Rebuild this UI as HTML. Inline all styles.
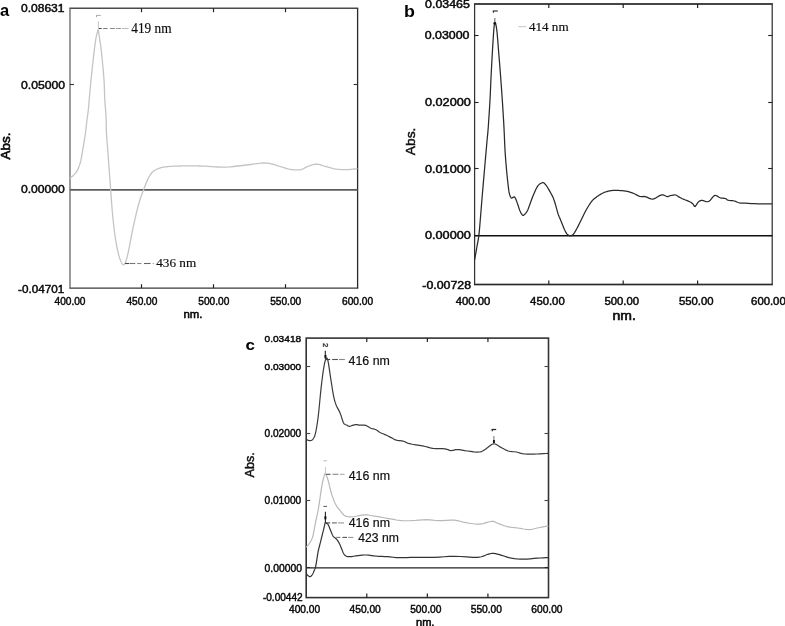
<!DOCTYPE html>
<html><head><meta charset="utf-8"><style>
html,body{margin:0;padding:0;background:#fff;width:785px;height:626px;overflow:hidden;}
svg{display:block;will-change:transform;font-family:"Liberation Sans",sans-serif;}
</style></head><body>
<svg width="785" height="626" viewBox="0 0 785 626">
<line x1="69.30" y1="8.20" x2="358.20" y2="8.20" stroke="#4a4a4a" stroke-width="1.4" />
<line x1="69.30" y1="288.20" x2="358.20" y2="288.20" stroke="#383838" stroke-width="1.3" />
<line x1="70.00" y1="8.20" x2="70.00" y2="288.20" stroke="#707070" stroke-width="1.4" />
<line x1="357.60" y1="8.20" x2="357.60" y2="288.20" stroke="#2a2a2a" stroke-width="1.3" />
<line x1="141.50" y1="8.20" x2="141.50" y2="12.20" stroke="#222" stroke-width="1.2" />
<line x1="141.50" y1="288.20" x2="141.50" y2="284.20" stroke="#222" stroke-width="1.2" />
<line x1="213.50" y1="8.20" x2="213.50" y2="12.20" stroke="#222" stroke-width="1.2" />
<line x1="213.50" y1="288.20" x2="213.50" y2="284.20" stroke="#222" stroke-width="1.2" />
<line x1="285.50" y1="8.20" x2="285.50" y2="12.20" stroke="#222" stroke-width="1.2" />
<line x1="285.50" y1="288.20" x2="285.50" y2="284.20" stroke="#222" stroke-width="1.2" />
<line x1="70.00" y1="84.50" x2="74.00" y2="84.50" stroke="#333" stroke-width="1.1" />
<line x1="357.60" y1="84.50" x2="353.60" y2="84.50" stroke="#333" stroke-width="1.1" />
<line x1="70.00" y1="189.50" x2="74.00" y2="189.50" stroke="#333" stroke-width="1.1" />
<line x1="357.60" y1="189.50" x2="353.60" y2="189.50" stroke="#333" stroke-width="1.1" />
<line x1="70.00" y1="189.90" x2="357.60" y2="189.90" stroke="#5c5c5c" stroke-width="1.8" />
<polyline points="70.00,178.30 70.32,178.04 70.76,177.70 71.29,177.29 71.86,176.83 72.44,176.33 73.00,175.80 73.56,175.24 74.14,174.64 74.74,173.99 75.33,173.32 75.89,172.62 76.40,171.90 76.86,171.17 77.29,170.43 77.69,169.66 78.07,168.85 78.43,168.00 78.80,167.10 79.16,166.15 79.51,165.17 79.85,164.14 80.18,163.06 80.49,161.92 80.80,160.70 81.09,159.37 81.38,157.91 81.65,156.40 81.91,154.87 82.16,153.39 82.40,152.00 82.63,150.69 82.84,149.40 83.05,148.16 83.24,146.97 83.43,145.84 83.60,144.80 83.75,143.90 83.88,143.14 84.00,142.45 84.12,141.75 84.25,140.96 84.40,140.00 84.58,138.88 84.77,137.66 84.98,136.36 85.19,134.97 85.40,133.52 85.60,132.00 85.80,130.41 85.99,128.72 86.18,126.97 86.38,125.17 86.58,123.34 86.80,121.50 87.04,119.62 87.30,117.69 87.57,115.72 87.83,113.76 88.08,111.84 88.30,110.00 88.47,108.36 88.61,106.93 88.73,105.53 88.86,104.02 89.00,102.23 89.20,100.00 89.44,97.32 89.69,94.31 89.98,91.02 90.29,87.51 90.63,83.82 91.00,80.00 91.43,75.83 91.92,71.23 92.44,66.45 92.97,61.75 93.46,57.38 93.90,53.60 94.28,50.42 94.62,47.64 94.93,45.20 95.23,43.02 95.51,41.04 95.80,39.20 96.10,37.53 96.39,36.08 96.68,34.84 96.95,33.76 97.19,32.83 97.40,32.00 97.56,31.29 97.67,30.73 97.76,30.31 97.84,30.02 97.91,29.85 98.00,29.80 98.09,29.85 98.18,30.02 98.27,30.31 98.36,30.73 98.47,31.29 98.60,32.00 98.75,32.83 98.90,33.76 99.07,34.84 99.26,36.08 99.46,37.53 99.70,39.20 99.96,41.04 100.26,43.02 100.57,45.20 100.90,47.64 101.25,50.42 101.60,53.60 101.99,57.38 102.42,61.75 102.87,66.45 103.30,71.23 103.69,75.83 104.00,80.00 104.22,83.75 104.37,87.29 104.47,90.65 104.56,93.87 104.66,96.97 104.80,100.00 104.99,102.90 105.20,105.63 105.42,108.25 105.64,110.81 105.84,113.38 106.00,116.00 106.10,118.67 106.16,121.33 106.20,124.00 106.24,126.67 106.30,129.33 106.40,132.00 106.55,134.60 106.73,137.11 106.93,139.62 107.14,142.22 107.37,144.99 107.60,148.00 107.84,151.34 108.11,154.97 108.38,158.76 108.66,162.61 108.93,166.39 109.20,170.00 109.46,173.45 109.71,176.82 109.97,180.14 110.22,183.40 110.46,186.62 110.70,189.80 110.92,192.91 111.12,195.92 111.32,198.89 111.52,201.86 111.75,204.88 112.00,208.00 112.29,211.30 112.61,214.76 112.96,218.26 113.31,221.71 113.66,224.99 114.00,228.00 114.33,230.73 114.67,233.26 115.00,235.62 115.33,237.85 115.67,239.97 116.00,242.00 116.33,243.92 116.65,245.69 116.97,247.34 117.30,248.93 117.64,250.47 118.00,252.00 118.39,253.55 118.79,255.10 119.21,256.61 119.63,258.04 120.07,259.35 120.50,260.50 120.94,261.53 121.40,262.47 121.86,263.30 122.32,263.97 122.77,264.45 123.20,264.70 123.60,264.73 123.98,264.58 124.34,264.24 124.71,263.70 125.09,262.95 125.50,262.00 125.92,260.92 126.33,259.73 126.75,258.33 127.21,256.64 127.72,254.56 128.30,252.00 128.96,248.81 129.69,245.04 130.47,240.88 131.29,236.52 132.14,232.16 133.00,228.00 133.90,223.88 134.86,219.63 135.84,215.38 136.83,211.26 137.79,207.42 138.70,204.00 139.56,201.04 140.40,198.44 141.21,196.12 141.99,194.00 142.76,191.99 143.50,190.00 144.22,188.05 144.93,186.20 145.61,184.47 146.27,182.85 146.90,181.36 147.50,180.00 148.05,178.80 148.56,177.77 149.03,176.86 149.50,176.03 149.98,175.26 150.50,174.50 151.03,173.77 151.54,173.10 152.06,172.48 152.63,171.90 153.27,171.34 154.00,170.80 154.83,170.27 155.74,169.75 156.72,169.26 157.76,168.80 158.86,168.38 160.00,168.00 161.17,167.68 162.37,167.40 163.62,167.16 164.96,166.96 166.41,166.77 168.00,166.60 169.79,166.45 171.78,166.33 173.88,166.22 176.00,166.14 178.07,166.07 180.00,166.00 181.72,165.94 183.30,165.88 184.81,165.84 186.37,165.81 188.07,165.79 190.00,165.80 192.16,165.82 194.48,165.87 196.94,165.93 199.52,166.00 202.21,166.09 205.00,166.20 207.99,166.36 211.22,166.57 214.56,166.80 217.89,167.01 221.08,167.15 224.00,167.20 226.64,167.13 229.09,166.97 231.39,166.76 233.61,166.50 235.80,166.24 238.00,166.00 240.20,165.77 242.35,165.52 244.46,165.27 246.55,165.01 248.63,164.75 250.70,164.50 252.80,164.22 254.92,163.91 257.02,163.59 259.08,163.31 261.05,163.11 262.90,163.00 264.61,163.00 266.20,163.09 267.71,163.25 269.16,163.46 270.58,163.72 272.00,164.00 273.39,164.33 274.71,164.72 276.01,165.15 277.30,165.60 278.62,166.06 280.00,166.50 281.48,166.95 283.04,167.43 284.62,167.91 286.19,168.37 287.66,168.78 289.00,169.10 290.17,169.34 291.21,169.51 292.18,169.63 293.10,169.70 294.02,169.76 295.00,169.80 296.01,169.86 297.00,169.93 298.00,169.97 299.02,169.95 300.08,169.84 301.20,169.60 302.38,169.18 303.60,168.59 304.86,167.90 306.16,167.19 307.47,166.54 308.80,166.00 310.15,165.55 311.54,165.11 312.95,164.73 314.37,164.43 315.79,164.24 317.20,164.20 318.57,164.34 319.91,164.65 321.26,165.07 322.63,165.56 324.07,166.05 325.60,166.50 327.25,166.94 329.00,167.42 330.81,167.91 332.65,168.38 334.49,168.78 336.30,169.10 338.09,169.32 339.89,169.47 341.69,169.57 343.49,169.61 345.26,169.62 347.00,169.60 348.82,169.52 350.76,169.37 352.67,169.18 354.43,168.99 355.92,168.81 357.00,168.70" fill="none" stroke="#c4c4c4" stroke-width="1.3" stroke-linejoin="round" stroke-linecap="round" />
<line x1="96.00" y1="15.40" x2="100.80" y2="15.40" stroke="#aaa" stroke-width="1.0" />
<line x1="96.50" y1="15.40" x2="96.50" y2="17.20" stroke="#aaa" stroke-width="1.0" />
<line x1="98.40" y1="21.20" x2="98.40" y2="28.00" stroke="#c8c8c8" stroke-width="1.0" />
<line x1="98.60" y1="28.50" x2="101.60" y2="28.50" stroke="#444" stroke-width="1.0" />
<line x1="103.20" y1="28.50" x2="107.50" y2="28.50" stroke="#777" stroke-width="1.0" />
<line x1="110.00" y1="28.50" x2="114.90" y2="28.50" stroke="#888" stroke-width="1.0" />
<line x1="115.90" y1="28.50" x2="121.00" y2="28.50" stroke="#999" stroke-width="1.0" />
<line x1="122.00" y1="28.50" x2="128.70" y2="28.50" stroke="#bbb" stroke-width="1.0" />
<line x1="125.10" y1="263.50" x2="129.20" y2="263.50" stroke="#444" stroke-width="1.1" />
<line x1="129.70" y1="263.50" x2="135.30" y2="263.50" stroke="#777" stroke-width="1.1" />
<line x1="137.10" y1="263.50" x2="141.40" y2="263.50" stroke="#888" stroke-width="1.1" />
<line x1="144.00" y1="263.50" x2="150.60" y2="263.50" stroke="#666" stroke-width="1.1" />
<line x1="152.70" y1="263.50" x2="153.90" y2="263.50" stroke="#999" stroke-width="1.1" />
<text x="131.30" y="33.00" font-family='"Liberation Serif", serif' font-size="13.7" font-weight="normal" fill="#0a0a0a" stroke="#0a0a0a" stroke-width="0.15" text-anchor="start" textLength="40.3" lengthAdjust="spacingAndGlyphs" >419 nm</text>
<text x="156.20" y="266.80" font-family='"Liberation Serif", serif' font-size="13.4" font-weight="normal" fill="#0a0a0a" stroke="#0a0a0a" stroke-width="0.15" text-anchor="start" textLength="40.0" lengthAdjust="spacingAndGlyphs" >436 nm</text>
<text x="21.00" y="11.50" font-family='"Liberation Sans", sans-serif' font-size="10.6" font-weight="normal" fill="#0a0a0a" stroke="#0a0a0a" stroke-width="0.45" text-anchor="start" textLength="43.5" lengthAdjust="spacingAndGlyphs" >0.08631</text>
<text x="21.10" y="89.20" font-family='"Liberation Sans", sans-serif' font-size="10.6" font-weight="normal" fill="#0a0a0a" stroke="#0a0a0a" stroke-width="0.45" text-anchor="start" textLength="44.0" lengthAdjust="spacingAndGlyphs" >0.05000</text>
<text x="21.00" y="193.30" font-family='"Liberation Sans", sans-serif' font-size="10.6" font-weight="normal" fill="#0a0a0a" stroke="#0a0a0a" stroke-width="0.45" text-anchor="start" textLength="43.8" lengthAdjust="spacingAndGlyphs" >0.00000</text>
<text x="18.10" y="293.00" font-family='"Liberation Sans", sans-serif' font-size="10.6" font-weight="normal" fill="#0a0a0a" stroke="#0a0a0a" stroke-width="0.45" text-anchor="start" textLength="46.1" lengthAdjust="spacingAndGlyphs" >-0.04701</text>
<text x="70.00" y="304.60" font-family='"Liberation Sans", sans-serif' font-size="10" font-weight="normal" fill="#0a0a0a" stroke="#0a0a0a" stroke-width="0.45" text-anchor="middle" textLength="31" lengthAdjust="spacingAndGlyphs" >400.00</text>
<text x="141.90" y="304.60" font-family='"Liberation Sans", sans-serif' font-size="10" font-weight="normal" fill="#0a0a0a" stroke="#0a0a0a" stroke-width="0.45" text-anchor="middle" textLength="31" lengthAdjust="spacingAndGlyphs" >450.00</text>
<text x="213.80" y="304.60" font-family='"Liberation Sans", sans-serif' font-size="10" font-weight="normal" fill="#0a0a0a" stroke="#0a0a0a" stroke-width="0.45" text-anchor="middle" textLength="31" lengthAdjust="spacingAndGlyphs" >500.00</text>
<text x="285.70" y="304.60" font-family='"Liberation Sans", sans-serif' font-size="10" font-weight="normal" fill="#0a0a0a" stroke="#0a0a0a" stroke-width="0.45" text-anchor="middle" textLength="31" lengthAdjust="spacingAndGlyphs" >550.00</text>
<text x="357.60" y="304.60" font-family='"Liberation Sans", sans-serif' font-size="10" font-weight="normal" fill="#0a0a0a" stroke="#0a0a0a" stroke-width="0.45" text-anchor="middle" textLength="31" lengthAdjust="spacingAndGlyphs" >600.00</text>
<text x="183.40" y="317.70" font-family='"Liberation Sans", sans-serif' font-size="11.6" font-weight="normal" fill="#0a0a0a" stroke="#0a0a0a" stroke-width="0.6" text-anchor="start" textLength="19.0" lengthAdjust="spacingAndGlyphs" >nm.</text>
<text transform="translate(10.2,159.4) rotate(-90)" font-family='"Liberation Sans", sans-serif' font-size="12.9" fill="#0a0a0a" stroke="#0a0a0a" stroke-width="0.6" textLength="26.8" lengthAdjust="spacingAndGlyphs">Abs.</text>
<text x="0.10" y="16.30" font-family='"Liberation Sans", sans-serif' font-size="16.5" font-weight="bold" fill="#000"  text-anchor="start"  >a</text>
<rect x="474.6" y="4.0" width="297.6" height="280.5" fill="none" stroke="#333" stroke-width="1.25"/>
<line x1="474.00" y1="4.00" x2="772.80" y2="4.00" stroke="#333" stroke-width="1.6" />
<line x1="474.00" y1="284.50" x2="772.80" y2="284.50" stroke="#2a2a2a" stroke-width="1.6" />
<line x1="548.80" y1="4.00" x2="548.80" y2="8.00" stroke="#222" stroke-width="1.2" />
<line x1="548.80" y1="284.50" x2="548.80" y2="280.50" stroke="#222" stroke-width="1.2" />
<line x1="623.20" y1="4.00" x2="623.20" y2="8.00" stroke="#222" stroke-width="1.2" />
<line x1="623.20" y1="284.50" x2="623.20" y2="280.50" stroke="#222" stroke-width="1.2" />
<line x1="697.60" y1="4.00" x2="697.60" y2="8.00" stroke="#222" stroke-width="1.2" />
<line x1="697.60" y1="284.50" x2="697.60" y2="280.50" stroke="#222" stroke-width="1.2" />
<line x1="474.60" y1="35.50" x2="478.60" y2="35.50" stroke="#222" stroke-width="1.1" />
<line x1="772.20" y1="35.50" x2="768.20" y2="35.50" stroke="#222" stroke-width="1.1" />
<line x1="474.60" y1="102.50" x2="478.60" y2="102.50" stroke="#222" stroke-width="1.1" />
<line x1="772.20" y1="102.50" x2="768.20" y2="102.50" stroke="#222" stroke-width="1.1" />
<line x1="474.60" y1="168.50" x2="478.60" y2="168.50" stroke="#222" stroke-width="1.1" />
<line x1="772.20" y1="168.50" x2="768.20" y2="168.50" stroke="#222" stroke-width="1.1" />
<line x1="474.60" y1="235.50" x2="478.60" y2="235.50" stroke="#222" stroke-width="1.1" />
<line x1="772.20" y1="235.50" x2="768.20" y2="235.50" stroke="#222" stroke-width="1.1" />
<line x1="474.60" y1="235.80" x2="772.20" y2="235.80" stroke="#111" stroke-width="1.6" />
<polyline points="474.70,259.30 475.10,257.06 475.68,253.84 476.32,250.28 476.90,247.00 477.41,244.21 477.91,241.55 478.37,238.84 478.80,235.90 479.15,232.93 479.43,229.94 479.73,226.46 480.10,222.00 480.58,216.24 481.12,209.51 481.70,202.27 482.30,195.00 482.93,187.59 483.60,179.88 484.27,172.22 484.90,165.00 485.50,158.09 486.09,151.38 486.64,145.22 487.10,140.00 487.44,136.46 487.68,134.19 487.90,131.82 488.20,128.00 488.62,121.98 489.11,114.62 489.59,106.95 490.00,100.00 490.29,94.22 490.52,89.00 490.73,83.78 491.00,78.00 491.34,71.23 491.73,63.88 492.13,56.58 492.50,50.00 492.85,44.13 493.19,38.69 493.51,33.90 493.80,30.00 494.05,27.14 494.26,25.16 494.47,23.85 494.70,23.00 494.96,22.64 495.23,22.84 495.51,23.50 495.80,24.50 496.09,25.71 496.38,27.22 496.68,29.25 497.00,32.00 497.35,35.66 497.71,40.06 498.10,44.94 498.50,50.00 498.92,55.19 499.37,60.66 499.83,66.42 500.30,72.50 500.79,79.01 501.31,85.91 501.82,92.97 502.30,100.00 502.76,107.11 503.21,114.34 503.63,121.41 504.00,128.00 504.29,134.01 504.52,139.61 504.74,144.90 505.00,150.00 505.32,154.90 505.66,159.54 506.03,163.99 506.40,168.30 506.79,172.56 507.21,176.71 507.62,180.59 508.00,184.00 508.33,186.88 508.63,189.34 508.94,191.45 509.30,193.30 509.74,194.93 510.22,196.28 510.72,197.31 511.20,198.00 511.65,198.18 512.09,197.93 512.54,197.54 513.00,197.30 513.46,197.12 513.93,196.90 514.43,196.93 515.00,197.50 515.68,198.85 516.44,200.78 517.21,202.89 517.90,204.80 518.47,206.47 518.96,208.09 519.45,209.61 520.00,211.00 520.64,212.34 521.34,213.62 522.04,214.66 522.70,215.30 523.30,215.42 523.86,215.14 524.42,214.61 525.00,214.00 525.61,213.35 526.24,212.57 526.87,211.64 527.50,210.50 528.11,209.14 528.70,207.58 529.32,205.86 530.00,204.00 530.74,201.98 531.51,199.79 532.36,197.51 533.30,195.20 534.37,192.70 535.56,190.03 536.79,187.55 538.00,185.60 539.25,184.31 540.56,183.47 541.78,182.97 542.80,182.70 543.52,182.68 544.04,182.95 544.48,183.42 545.00,184.00 545.57,184.60 546.14,185.29 546.79,186.21 547.60,187.50 548.70,189.33 550.00,191.59 551.30,193.95 552.40,196.10 553.19,197.84 553.80,199.38 554.36,201.01 555.00,203.00 555.79,205.68 556.65,208.81 557.48,211.86 558.20,214.30 558.74,215.85 559.17,216.83 559.56,217.63 560.00,218.60 560.48,219.79 560.97,221.01 561.50,222.33 562.10,223.80 562.80,225.55 563.59,227.52 564.40,229.45 565.20,231.10 565.95,232.45 566.68,233.61 567.45,234.55 568.30,235.20 569.27,235.61 570.34,235.79 571.43,235.65 572.50,235.10 573.53,234.05 574.55,232.56 575.57,230.82 576.60,229.00 577.62,227.13 578.63,225.12 579.68,222.97 580.80,220.70 582.03,218.20 583.34,215.50 584.68,212.80 586.00,210.30 587.33,207.98 588.67,205.76 589.98,203.73 591.20,202.00 592.25,200.68 593.18,199.69 594.15,198.83 595.30,197.90 596.75,196.81 598.38,195.68 600.05,194.60 601.60,193.70 602.95,193.01 604.21,192.46 605.46,192.01 606.80,191.60 608.25,191.20 609.77,190.86 611.35,190.58 613.00,190.40 614.75,190.34 616.59,190.38 618.46,190.48 620.30,190.60 622.13,190.73 623.96,190.88 625.77,191.09 627.50,191.40 629.14,191.81 630.71,192.31 632.25,192.88 633.80,193.50 635.38,194.25 636.97,195.12 638.53,195.93 640.00,196.50 641.29,196.67 642.46,196.58 643.68,196.47 645.10,196.60 646.85,197.19 648.82,198.06 650.83,198.82 652.70,199.10 654.45,198.65 656.14,197.72 657.71,196.68 659.10,195.90 660.22,195.43 661.12,195.09 661.96,194.91 662.90,194.90 664.01,195.20 665.19,195.76 666.35,196.31 667.40,196.60 668.25,196.51 668.96,196.19 669.70,195.80 670.60,195.50 671.80,195.28 673.19,195.08 674.56,194.96 675.70,195.00 676.45,195.23 676.95,195.61 677.45,196.09 678.20,196.60 679.26,197.16 680.51,197.79 681.87,198.45 683.30,199.10 684.88,199.75 686.61,200.41 688.29,201.07 689.70,201.70 690.77,202.29 691.63,202.86 692.34,203.42 693.00,204.00 693.55,204.78 693.98,205.69 694.42,206.38 695.00,206.50 695.78,205.73 696.69,204.34 697.65,202.82 698.60,201.70 699.54,201.07 700.49,200.67 701.45,200.46 702.40,200.40 703.36,200.59 704.34,201.01 705.29,201.45 706.20,201.70 707.03,201.75 707.80,201.71 708.57,201.48 709.40,201.00 710.34,200.08 711.34,198.82 712.32,197.55 713.20,196.60 713.89,196.01 714.46,195.63 715.04,195.46 715.80,195.50 716.78,195.87 717.89,196.54 719.09,197.26 720.30,197.80 721.59,198.07 722.97,198.19 724.29,198.30 725.40,198.50 726.12,198.85 726.57,199.29 727.06,199.73 727.90,200.10 729.26,200.35 730.94,200.53 732.70,200.72 734.30,201.00 735.64,201.44 736.86,201.99 738.08,202.52 739.40,202.90 740.72,203.06 742.02,203.07 743.57,203.05 745.60,203.10 748.31,203.28 751.51,203.51 754.94,203.74 758.30,203.90 761.87,203.96 765.69,203.95 769.12,203.92 771.50,203.90" fill="none" stroke="#2a2a2a" stroke-width="1.25" stroke-linejoin="round" stroke-linecap="round" />
<line x1="492.80" y1="11.00" x2="497.80" y2="11.00" stroke="#333" stroke-width="1.2" />
<line x1="493.40" y1="11.00" x2="493.40" y2="12.80" stroke="#333" stroke-width="1.1" />
<line x1="494.80" y1="18.00" x2="494.80" y2="23.00" stroke="#777" stroke-width="1.2" />
<circle cx="494.8" cy="23.2" r="1.3" fill="#111"/>
<line x1="518.40" y1="26.70" x2="526.40" y2="26.70" stroke="#c4c4c4" stroke-width="1.0" />
<text x="528.90" y="30.60" font-family='"Liberation Serif", serif' font-size="13.1" font-weight="normal" fill="#0a0a0a" stroke="#0a0a0a" stroke-width="0.15" text-anchor="start" textLength="39.7" lengthAdjust="spacingAndGlyphs" >414 nm</text>
<text x="425.10" y="7.60" font-family='"Liberation Sans", sans-serif' font-size="10" font-weight="normal" fill="#0a0a0a" stroke="#0a0a0a" stroke-width="0.45" text-anchor="start" textLength="44.8" lengthAdjust="spacingAndGlyphs" >0.03465</text>
<text x="424.80" y="39.10" font-family='"Liberation Sans", sans-serif' font-size="10" font-weight="normal" fill="#0a0a0a" stroke="#0a0a0a" stroke-width="0.45" text-anchor="start" textLength="44.7" lengthAdjust="spacingAndGlyphs" >0.03000</text>
<text x="425.00" y="105.60" font-family='"Liberation Sans", sans-serif' font-size="10" font-weight="normal" fill="#0a0a0a" stroke="#0a0a0a" stroke-width="0.45" text-anchor="start" textLength="45.8" lengthAdjust="spacingAndGlyphs" >0.02000</text>
<text x="425.00" y="172.50" font-family='"Liberation Sans", sans-serif' font-size="10" font-weight="normal" fill="#0a0a0a" stroke="#0a0a0a" stroke-width="0.45" text-anchor="start" textLength="45.8" lengthAdjust="spacingAndGlyphs" >0.01000</text>
<text x="425.00" y="239.40" font-family='"Liberation Sans", sans-serif' font-size="10" font-weight="normal" fill="#0a0a0a" stroke="#0a0a0a" stroke-width="0.45" text-anchor="start" textLength="45.8" lengthAdjust="spacingAndGlyphs" >0.00000</text>
<text x="422.30" y="288.90" font-family='"Liberation Sans", sans-serif' font-size="10" font-weight="normal" fill="#0a0a0a" stroke="#0a0a0a" stroke-width="0.45" text-anchor="start" textLength="48.7" lengthAdjust="spacingAndGlyphs" >-0.00728</text>
<text x="473.00" y="304.60" font-family='"Liberation Sans", sans-serif' font-size="10.2" font-weight="normal" fill="#0a0a0a" stroke="#0a0a0a" stroke-width="0.45" text-anchor="middle" textLength="34.6" lengthAdjust="spacingAndGlyphs" >400.00</text>
<text x="547.40" y="304.60" font-family='"Liberation Sans", sans-serif' font-size="10.2" font-weight="normal" fill="#0a0a0a" stroke="#0a0a0a" stroke-width="0.45" text-anchor="middle" textLength="34.6" lengthAdjust="spacingAndGlyphs" >450.00</text>
<text x="621.80" y="304.60" font-family='"Liberation Sans", sans-serif' font-size="10.2" font-weight="normal" fill="#0a0a0a" stroke="#0a0a0a" stroke-width="0.45" text-anchor="middle" textLength="34.6" lengthAdjust="spacingAndGlyphs" >500.00</text>
<text x="696.20" y="304.60" font-family='"Liberation Sans", sans-serif' font-size="10.2" font-weight="normal" fill="#0a0a0a" stroke="#0a0a0a" stroke-width="0.45" text-anchor="middle" textLength="34.6" lengthAdjust="spacingAndGlyphs" >550.00</text>
<text x="768.40" y="304.60" font-family='"Liberation Sans", sans-serif' font-size="10.2" font-weight="normal" fill="#0a0a0a" stroke="#0a0a0a" stroke-width="0.45" text-anchor="middle" textLength="34.6" lengthAdjust="spacingAndGlyphs" >600.00</text>
<text x="612.60" y="319.80" font-family='"Liberation Sans", sans-serif' font-size="12.4" font-weight="normal" fill="#0a0a0a" stroke="#0a0a0a" stroke-width="0.6" text-anchor="start" textLength="23.3" lengthAdjust="spacingAndGlyphs" >nm.</text>
<text transform="translate(415.4,155.2) rotate(-90)" font-family='"Liberation Sans", sans-serif' font-size="13.4" fill="#111" stroke="#111" stroke-width="0.5" textLength="27.6" lengthAdjust="spacingAndGlyphs">Abs.</text>
<text x="403.90" y="16.60" font-family='"Liberation Sans", sans-serif' font-size="16" font-weight="bold" fill="#000"  text-anchor="start" textLength="10.9" lengthAdjust="spacingAndGlyphs" >b</text>
<rect x="306.2" y="338.1" width="242.3" height="259.5" fill="none" stroke="#333" stroke-width="1.6"/>
<line x1="366.77" y1="338.10" x2="366.77" y2="342.10" stroke="#222" stroke-width="1.2" />
<line x1="366.77" y1="597.60" x2="366.77" y2="593.60" stroke="#222" stroke-width="1.2" />
<line x1="427.35" y1="338.10" x2="427.35" y2="342.10" stroke="#222" stroke-width="1.2" />
<line x1="427.35" y1="597.60" x2="427.35" y2="593.60" stroke="#222" stroke-width="1.2" />
<line x1="487.93" y1="338.10" x2="487.93" y2="342.10" stroke="#222" stroke-width="1.2" />
<line x1="487.93" y1="597.60" x2="487.93" y2="593.60" stroke="#222" stroke-width="1.2" />
<line x1="306.20" y1="366.50" x2="310.20" y2="366.50" stroke="#444" stroke-width="1.1" />
<line x1="548.50" y1="366.50" x2="544.50" y2="366.50" stroke="#444" stroke-width="1.1" />
<line x1="306.20" y1="433.50" x2="310.20" y2="433.50" stroke="#444" stroke-width="1.1" />
<line x1="548.50" y1="433.50" x2="544.50" y2="433.50" stroke="#444" stroke-width="1.1" />
<line x1="306.20" y1="500.50" x2="310.20" y2="500.50" stroke="#444" stroke-width="1.1" />
<line x1="548.50" y1="500.50" x2="544.50" y2="500.50" stroke="#444" stroke-width="1.1" />
<line x1="306.20" y1="567.50" x2="310.20" y2="567.50" stroke="#444" stroke-width="1.1" />
<line x1="548.50" y1="567.50" x2="544.50" y2="567.50" stroke="#444" stroke-width="1.1" />
<line x1="306.20" y1="567.89" x2="548.50" y2="567.89" stroke="#222" stroke-width="1.4" />
<polyline points="306.50,546.80 306.73,546.60 307.06,546.33 307.48,545.92 308.00,545.30 308.67,544.40 309.47,543.28 310.29,542.04 311.00,540.80 311.57,539.67 312.06,538.57 312.52,537.28 313.00,535.60 313.52,533.27 314.04,530.46 314.55,527.63 315.00,525.20 315.35,523.49 315.62,522.21 315.91,520.87 316.30,519.00 316.81,516.59 317.39,513.86 318.03,510.67 318.70,506.90 319.45,502.04 320.27,496.32 321.08,490.70 321.80,486.10 322.41,482.82 322.96,480.34 323.45,478.42 323.90,476.80 324.27,475.37 324.56,474.28 324.87,473.68 325.30,473.70 325.87,474.45 326.54,475.83 327.27,477.70 328.00,479.90 328.72,482.59 329.46,485.77 330.24,489.12 331.10,492.30 332.05,495.34 333.07,498.38 334.15,501.25 335.30,503.80 336.53,505.95 337.84,507.79 339.18,509.44 340.50,511.00 341.71,512.55 342.86,514.03 344.10,515.28 345.60,516.20 347.40,516.69 349.42,516.84 351.60,516.77 353.90,516.60 356.35,516.23 358.97,515.64 361.65,515.08 364.30,514.80 366.85,514.91 369.38,515.26 371.96,515.73 374.70,516.20 377.66,516.68 380.77,517.21 383.95,517.76 387.10,518.30 390.25,518.87 393.43,519.46 396.56,520.00 399.60,520.40 402.38,520.63 404.99,520.74 407.71,520.76 410.80,520.70 414.52,520.49 418.66,520.16 422.82,519.84 426.60,519.70 429.74,519.85 432.50,520.18 435.26,520.52 438.40,520.70 442.16,520.59 446.29,520.30 450.43,520.06 454.20,520.10 457.40,520.55 460.27,521.28 463.08,522.06 466.10,522.70 469.46,523.23 473.01,523.74 476.55,524.07 479.90,524.10 483.13,523.58 486.29,522.66 489.20,521.76 491.70,521.30 493.52,521.43 494.82,521.91 496.07,522.59 497.70,523.30 499.88,524.10 502.36,525.04 504.95,525.96 507.50,526.70 509.92,527.17 512.32,527.46 514.78,527.70 517.40,528.00 520.33,528.45 523.47,528.98 526.56,529.42 529.30,529.60 531.49,529.43 533.32,529.02 535.11,528.50 537.20,528.00 539.95,527.50 543.09,526.95 545.99,526.45 548.00,526.10" fill="none" stroke="#b8b8b8" stroke-width="1.2" stroke-linejoin="round" stroke-linecap="round" />
<polyline points="306.50,439.60 307.06,439.83 307.87,440.16 308.77,440.47 309.60,440.60 310.34,440.60 311.07,440.52 311.79,440.23 312.50,439.60 313.20,438.78 313.90,437.77 314.60,436.25 315.30,433.90 316.02,430.66 316.74,426.69 317.47,422.00 318.20,416.60 318.93,410.05 319.66,402.49 320.38,394.81 321.10,387.90 321.83,381.77 322.56,376.03 323.26,370.95 323.90,366.80 324.46,363.75 324.96,361.62 325.43,360.19 325.90,359.20 326.36,358.42 326.79,358.04 327.26,358.46 327.80,360.10 328.46,363.45 329.19,368.18 329.96,373.41 330.70,378.30 331.41,382.87 332.12,387.50 332.82,391.85 333.50,395.60 334.13,398.53 334.72,400.87 335.35,402.92 336.10,405.00 337.05,407.11 338.13,409.12 339.22,411.11 340.20,413.20 341.06,415.58 341.86,418.14 342.57,420.51 343.20,422.30 343.68,423.30 344.05,423.75 344.39,423.95 344.80,424.20 345.30,424.53 345.85,424.80 346.42,425.04 347.00,425.30 347.57,425.62 348.15,425.98 348.75,426.27 349.40,426.40 350.08,426.29 350.79,426.02 351.56,425.69 352.40,425.40 353.37,425.15 354.44,424.90 355.52,424.70 356.50,424.60 357.27,424.66 357.93,424.84 358.64,425.05 359.60,425.20 360.94,425.22 362.53,425.16 364.18,425.18 365.70,425.40 367.05,425.95 368.31,426.72 369.55,427.53 370.80,428.20 372.10,428.64 373.41,428.95 374.70,429.26 375.90,429.70 376.97,430.32 377.96,431.06 378.94,431.82 380.00,432.50 381.16,433.05 382.37,433.54 383.64,434.03 385.00,434.60 386.49,435.30 388.09,436.07 389.70,436.86 391.20,437.60 392.51,438.32 393.69,439.03 394.91,439.67 396.30,440.20 397.96,440.53 399.79,440.71 401.65,440.88 403.40,441.20 404.83,441.73 406.07,442.38 407.51,443.06 409.50,443.70 412.35,444.27 415.79,444.81 419.36,445.34 422.60,445.90 425.31,446.53 427.76,447.20 430.18,447.82 432.80,448.30 435.85,448.55 439.16,448.64 442.33,448.71 445.00,448.90 446.95,449.31 448.42,449.86 449.71,450.35 451.10,450.60 452.55,450.46 453.94,450.06 455.47,449.66 457.30,449.50 459.52,449.70 462.02,450.12 464.72,450.60 467.50,451.00 470.55,451.38 473.86,451.79 477.03,452.05 479.70,452.00 481.62,451.56 483.03,450.83 484.31,449.91 485.80,448.90 487.64,447.57 489.62,445.96 491.61,444.55 493.50,443.80 495.19,443.98 496.77,444.78 498.37,445.86 500.10,446.90 502.02,447.93 504.05,449.08 506.13,450.17 508.20,451.00 510.25,451.44 512.30,451.63 514.35,451.75 516.40,452.00 518.33,452.48 520.19,453.06 522.18,453.62 524.50,454.00 527.31,454.15 530.46,454.16 533.70,454.09 536.80,454.00 539.94,453.88 543.17,453.70 546.01,453.52 548.00,453.40" fill="none" stroke="#3a3a3a" stroke-width="1.2" stroke-linejoin="round" stroke-linecap="round" />
<polyline points="306.50,574.00 306.86,574.39 307.38,574.96 307.96,575.55 308.50,576.00 308.98,576.31 309.45,576.56 309.92,576.67 310.40,576.60 310.90,576.30 311.42,575.81 311.93,575.19 312.40,574.50 312.83,573.74 313.22,572.88 313.61,571.96 314.00,571.00 314.40,570.10 314.81,569.20 315.21,568.15 315.60,566.80 315.97,564.99 316.33,562.84 316.67,560.60 317.00,558.50 317.31,556.56 317.61,554.66 317.90,552.85 318.20,551.20 318.52,549.75 318.84,548.47 319.17,547.25 319.50,546.00 319.82,544.70 320.15,543.41 320.48,542.11 320.80,540.80 321.12,539.48 321.45,538.14 321.78,536.81 322.10,535.50 322.43,534.21 322.76,532.94 323.08,531.68 323.40,530.40 323.72,529.05 324.03,527.66 324.33,526.33 324.60,525.20 324.82,524.24 325.01,523.42 325.19,522.78 325.40,522.40 325.64,522.35 325.89,522.59 326.18,522.95 326.50,523.30 326.88,523.54 327.29,523.76 327.74,524.10 328.20,524.70 328.68,525.66 329.18,526.88 329.69,528.21 330.20,529.50 330.71,530.77 331.23,532.09 331.73,533.34 332.20,534.40 332.60,535.19 332.94,535.79 333.31,536.32 333.80,536.90 334.46,537.51 335.24,538.10 336.05,538.74 336.80,539.50 337.49,540.40 338.16,541.41 338.79,542.48 339.40,543.60 339.96,544.77 340.48,545.99 340.99,547.25 341.50,548.50 342.02,549.80 342.53,551.15 343.05,552.42 343.60,553.50 344.15,554.34 344.69,555.02 345.29,555.56 346.00,556.00 346.75,556.34 347.53,556.57 348.50,556.69 349.80,556.70 351.56,556.54 353.67,556.23 355.92,555.88 358.10,555.60 360.13,555.37 362.12,555.16 364.18,555.01 366.40,555.00 368.85,555.19 371.48,555.53 374.16,555.91 376.80,556.20 379.33,556.36 381.82,556.46 384.37,556.56 387.10,556.70 390.01,556.95 393.05,557.26 396.24,557.54 399.60,557.70 403.08,557.69 406.69,557.56 410.53,557.40 414.70,557.30 419.32,557.30 424.31,557.34 429.45,557.36 434.50,557.30 439.34,557.07 444.11,556.74 449.00,556.43 454.20,556.30 460.17,556.50 466.66,556.92 472.85,557.28 477.90,557.30 481.44,556.78 483.96,555.92 485.93,555.00 487.80,554.30 489.51,553.84 490.88,553.49 492.18,553.29 493.70,553.30 495.49,553.57 497.40,554.06 499.44,554.67 501.60,555.30 503.89,556.01 506.31,556.81 508.84,557.59 511.50,558.20 514.27,558.63 517.15,558.94 520.16,559.14 523.30,559.20 526.70,559.08 530.31,558.80 533.89,558.47 537.20,558.20 540.37,558.01 543.47,557.84 546.13,557.70 548.00,557.60" fill="none" stroke="#333" stroke-width="1.2" stroke-linejoin="round" stroke-linecap="round" />
<text transform="translate(322.6,345.1) rotate(90)" font-family='"Liberation Sans", sans-serif' font-size="7.6" fill="#222" stroke="#222" stroke-width="0.3" text-anchor="middle">2</text>
<line x1="325.30" y1="350.80" x2="325.30" y2="359.20" stroke="#222" stroke-width="1.1" />
<rect x="324.5" y="355" width="2" height="2.8" fill="#111"/>
<line x1="325.80" y1="359.50" x2="330.20" y2="359.50" stroke="#444" stroke-width="1.1" />
<line x1="332.10" y1="359.50" x2="338.00" y2="359.50" stroke="#555" stroke-width="1.1" />
<line x1="339.00" y1="359.50" x2="344.90" y2="359.50" stroke="#888" stroke-width="1.1" />
<text x="348.60" y="364.80" font-family='"Liberation Sans", sans-serif' font-size="12" font-weight="normal" fill="#111" stroke="#111" stroke-width="0.2" text-anchor="start" textLength="41.3" lengthAdjust="spacingAndGlyphs" >416 nm</text>
<line x1="491.60" y1="429.50" x2="496.20" y2="429.50" stroke="#222" stroke-width="1.2" />
<line x1="492.30" y1="429.50" x2="492.30" y2="431.20" stroke="#222" stroke-width="1.2" />
<line x1="493.90" y1="436.10" x2="493.90" y2="440.00" stroke="#888" stroke-width="1.2" />
<rect x="493" y="440" width="1.9" height="3" fill="#111"/>
<line x1="323.40" y1="460.80" x2="327.00" y2="460.80" stroke="#bbb" stroke-width="1.0" />
<line x1="325.50" y1="467.00" x2="325.50" y2="474.10" stroke="#c8c8c8" stroke-width="1.0" />
<line x1="326.00" y1="474.30" x2="330.50" y2="474.30" stroke="#555" stroke-width="1.1" />
<line x1="332.50" y1="474.30" x2="338.50" y2="474.30" stroke="#888" stroke-width="1.1" />
<line x1="340.00" y1="474.30" x2="344.60" y2="474.30" stroke="#aaa" stroke-width="1.1" />
<text x="348.70" y="479.60" font-family='"Liberation Sans", sans-serif' font-size="12" font-weight="normal" fill="#111" stroke="#111" stroke-width="0.2" text-anchor="start" textLength="41.4" lengthAdjust="spacingAndGlyphs" >416 nm</text>
<line x1="323.40" y1="506.40" x2="327.00" y2="506.40" stroke="#555" stroke-width="1.0" />
<line x1="325.40" y1="511.80" x2="325.40" y2="522.40" stroke="#222" stroke-width="1.1" />
<rect x="324.4" y="516.3" width="2" height="3" fill="#111"/>
<line x1="325.10" y1="522.90" x2="330.20" y2="522.90" stroke="#444" stroke-width="1.1" />
<line x1="332.00" y1="522.90" x2="336.80" y2="522.90" stroke="#666" stroke-width="1.1" />
<line x1="337.90" y1="522.90" x2="344.00" y2="522.90" stroke="#999" stroke-width="1.1" />
<text x="348.70" y="526.60" font-family='"Liberation Sans", sans-serif' font-size="12" font-weight="normal" fill="#111" stroke="#111" stroke-width="0.2" text-anchor="start" textLength="41.4" lengthAdjust="spacingAndGlyphs" >416 nm</text>
<line x1="336.30" y1="537.40" x2="340.40" y2="537.40" stroke="#777" stroke-width="1.1" />
<line x1="342.40" y1="537.40" x2="347.00" y2="537.40" stroke="#555" stroke-width="1.1" />
<line x1="348.00" y1="537.40" x2="353.40" y2="537.40" stroke="#999" stroke-width="1.1" />
<text x="358.30" y="541.50" font-family='"Liberation Sans", sans-serif' font-size="12" font-weight="normal" fill="#111" stroke="#111" stroke-width="0.2" text-anchor="start" textLength="40.6" lengthAdjust="spacingAndGlyphs" >423 nm</text>
<text x="264.50" y="342.20" font-family='"Liberation Sans", sans-serif' font-size="9.8" font-weight="normal" fill="#0a0a0a" stroke="#0a0a0a" stroke-width="0.45" text-anchor="start" textLength="36.7" lengthAdjust="spacingAndGlyphs" >0.03418</text>
<text x="264.50" y="370.00" font-family='"Liberation Sans", sans-serif' font-size="9.8" font-weight="normal" fill="#0a0a0a" stroke="#0a0a0a" stroke-width="0.45" text-anchor="start" textLength="36.7" lengthAdjust="spacingAndGlyphs" >0.03000</text>
<text x="264.50" y="437.23" font-family='"Liberation Sans", sans-serif' font-size="10.4" font-weight="normal" fill="#0a0a0a" stroke="#0a0a0a" stroke-width="0.45" text-anchor="start" textLength="36.7" lengthAdjust="spacingAndGlyphs" >0.02000</text>
<text x="264.50" y="504.46" font-family='"Liberation Sans", sans-serif' font-size="10.4" font-weight="normal" fill="#0a0a0a" stroke="#0a0a0a" stroke-width="0.45" text-anchor="start" textLength="36.7" lengthAdjust="spacingAndGlyphs" >0.01000</text>
<text x="264.50" y="571.69" font-family='"Liberation Sans", sans-serif' font-size="10.4" font-weight="normal" fill="#0a0a0a" stroke="#0a0a0a" stroke-width="0.45" text-anchor="start" textLength="37.4" lengthAdjust="spacingAndGlyphs" >0.00000</text>
<text x="262.90" y="600.90" font-family='"Liberation Sans", sans-serif' font-size="10.2" font-weight="normal" fill="#0a0a0a" stroke="#0a0a0a" stroke-width="0.45" text-anchor="start" textLength="39.8" lengthAdjust="spacingAndGlyphs" >-0.00442</text>
<text x="304.60" y="612.80" font-family='"Liberation Sans", sans-serif' font-size="10.0" font-weight="normal" fill="#0a0a0a" stroke="#0a0a0a" stroke-width="0.45" text-anchor="middle" textLength="31.2" lengthAdjust="spacingAndGlyphs" >400.00</text>
<text x="365.17" y="612.80" font-family='"Liberation Sans", sans-serif' font-size="10.0" font-weight="normal" fill="#0a0a0a" stroke="#0a0a0a" stroke-width="0.45" text-anchor="middle" textLength="31.2" lengthAdjust="spacingAndGlyphs" >450.00</text>
<text x="425.75" y="612.80" font-family='"Liberation Sans", sans-serif' font-size="10.0" font-weight="normal" fill="#0a0a0a" stroke="#0a0a0a" stroke-width="0.45" text-anchor="middle" textLength="31.2" lengthAdjust="spacingAndGlyphs" >500.00</text>
<text x="486.32" y="612.80" font-family='"Liberation Sans", sans-serif' font-size="10.0" font-weight="normal" fill="#0a0a0a" stroke="#0a0a0a" stroke-width="0.45" text-anchor="middle" textLength="31.2" lengthAdjust="spacingAndGlyphs" >550.00</text>
<text x="546.90" y="612.80" font-family='"Liberation Sans", sans-serif' font-size="10.0" font-weight="normal" fill="#0a0a0a" stroke="#0a0a0a" stroke-width="0.45" text-anchor="middle" textLength="31.2" lengthAdjust="spacingAndGlyphs" >600.00</text>
<text x="416.00" y="626.20" font-family='"Liberation Sans", sans-serif' font-size="11.5" font-weight="normal" fill="#0a0a0a" stroke="#0a0a0a" stroke-width="0.6" text-anchor="start" textLength="18.4" lengthAdjust="spacingAndGlyphs" >nm.</text>
<text transform="translate(254.4,477.5) rotate(-90)" font-family='"Liberation Sans", sans-serif' font-size="12.6" fill="#111" stroke="#111" stroke-width="0.45" textLength="25.2" lengthAdjust="spacingAndGlyphs">Abs.</text>
<text x="245.60" y="349.90" font-family='"Liberation Sans", sans-serif' font-size="14.8" font-weight="bold" fill="#000"  text-anchor="start" textLength="9.4" lengthAdjust="spacingAndGlyphs" >c</text>
</svg>
</body></html>
